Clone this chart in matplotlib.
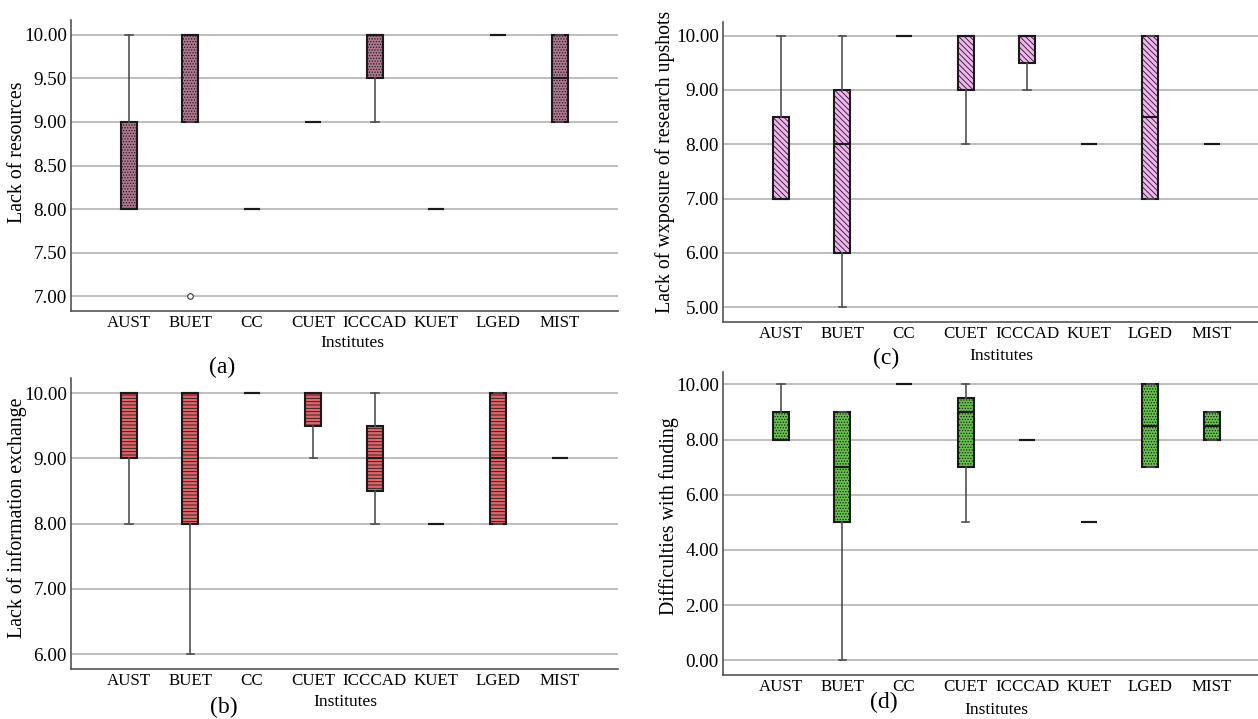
import matplotlib.pyplot as plt

plt.rcParams['font.family'] = 'Liberation Serif'
plt.rcParams['hatch.linewidth'] = 0.6

institutes = ["AUST", "BUET", "CC", "CUET", "ICCCAD", "KUET", "LGED", "MIST"]

# box stats per institute: whisker low, q1, median, q3, whisker high
res_lo = [8, 9, 8, 9, 9, 8, 10, 9]
res_q1 = [8, 9, 8, 9, 9.5, 8, 10, 9]
res_med = [8, 10, 8, 9, 10, 8, 10, 9.5]
res_q3 = [9, 10, 8, 9, 10, 8, 10, 10]
res_hi = [10, 10, 8, 9, 10, 8, 10, 10]
res_out = [[], [7], [], [], [], [], [], []]

info_lo = [8, 6, 10, 9, 8, 8, 8, 9]
info_q1 = [9, 8, 10, 9.5, 8.5, 8, 8, 9]
info_med = [10, 10, 10, 10, 9, 8, 9, 9]
info_q3 = [10, 10, 10, 10, 9.5, 8, 10, 9]
info_hi = [10, 10, 10, 10, 10, 8, 10, 9]

exp_lo = [7, 5, 10, 8, 9, 8, 7, 8]
exp_q1 = [7, 6, 10, 9, 9.5, 8, 7, 8]
exp_med = [7, 8, 10, 10, 10, 8, 8.5, 8]
exp_q3 = [8.5, 9, 10, 10, 10, 8, 10, 8]
exp_hi = [10, 10, 10, 10, 10, 8, 10, 8]

fund_lo = [8, 0, 10, 5, 8, 5, 7, 8]
fund_q1 = [8, 5, 10, 7, 8, 5, 7, 8]
fund_med = [8, 7, 10, 9, 8, 5, 8.5, 8.5]
fund_q3 = [9, 9, 10, 9.5, 8, 5, 10, 9]
fund_hi = [10, 9, 10, 10, 8, 5, 10, 9]

W, H = 1258, 719


def make_stats(lo, q1, med, q3, hi, out=None):
    stats = []
    for i in range(len(institutes)):
        stats.append({"whislo": lo[i], "q1": q1[i], "med": med[i], "q3": q3[i],
                      "whishi": hi[i], "fliers": out[i] if out else []})
    return stats


def draw_panel(ax, stats, color, hatch, ylabel, ylim, yticks, tag, tag_xy, xlab_xy, ylab_xy):
    ax.set_axisbelow(True)
    for y in yticks:
        ax.axhline(y, color="#b4b4b4", lw=1.2, zorder=0)
    ax.bxp(stats, positions=range(1, 9), widths=0.26, patch_artist=True,
           showfliers=True, capwidths=0.12,
           boxprops=dict(facecolor=color, edgecolor="#1a1a1a", lw=1.5, hatch=hatch),
           medianprops=dict(color="#1a1a1a", lw=1.5),
           whiskerprops=dict(color="#505050", lw=1.2),
           capprops=dict(color="#505050", lw=1.2),
           flierprops=dict(marker="o", markersize=4, markerfacecolor="white",
                           markeredgecolor="#333333", markeredgewidth=0.8))
    ax.set_ylim(*ylim)
    ax.set_yticks(yticks)
    ax.set_yticklabels(["%.2f" % y for y in yticks], fontsize=13.8)
    ax.set_xticks(range(1, 9))
    ax.set_xticklabels(institutes, fontsize=12.2)
    ax.tick_params(length=0, pad=3)
    ax.tick_params(axis="x", pad=3)
    ax.set_xlabel("Institutes", fontsize=12.5, va="center")
    ax.set_ylabel(ylabel, fontsize=14.3, va="center")
    ax.xaxis.set_label_coords(*xlab_xy)
    ax.yaxis.set_label_coords(*ylab_xy)
    for s in ["top", "right"]:
        ax.spines[s].set_visible(False)
    for s in ["left", "bottom"]:
        ax.spines[s].set_color("#555555")
        ax.spines[s].set_linewidth(1.2)
    ax.figure.text(tag_xy[0] / W, 1 - tag_xy[1] / H, tag, fontsize=17,
                   ha="center", va="center")


fig = plt.figure(figsize=(12.58, 7.19), dpi=100)
ax_a = fig.add_axes([71 / W, 1 - 311 / H, (618 - 71) / W, (311 - 20) / H])
ax_b = fig.add_axes([71 / W, 1 - 669 / H, (618 - 71) / W, (669 - 378) / H])
ax_c = fig.add_axes([723 / W, 1 - 322 / H, (1258 - 723) / W, (322 - 22) / H])
ax_d = fig.add_axes([723 / W, 1 - 675 / H, (1258 - 723) / W, (675 - 372) / H])

draw_panel(ax_a, make_stats(res_lo, res_q1, res_med, res_q3, res_hi, res_out),
           "#b07890", "......", "Lack of resources", (6.83, 10.17),
           [7.0, 7.5, 8.0, 8.5, 9.0, 9.5, 10.0], "(a)", (222, 367),
           (0.514, -0.11), (-0.097, 0.546))
draw_panel(ax_b, make_stats(info_lo, info_q1, info_med, info_q3, info_hi),
           "#e06468", "-----", "Lack of information exchange", (5.775, 10.23),
           [6.0, 7.0, 8.0, 9.0, 10.0], "(b)", (224, 707),
           (0.501, -0.113), (-0.099, 0.519))
draw_panel(ax_c, make_stats(exp_lo, exp_q1, exp_med, exp_q3, exp_hi),
           "#f2b4f0", "\\\\\\\\\\\\", "Lack of wxposure of research upshots", (4.73, 10.25),
           [5.0, 6.0, 7.0, 8.0, 9.0, 10.0], "(c)", (886, 358),
           (0.52, -0.113), (-0.108, 0.533))
draw_panel(ax_d, make_stats(fund_lo, fund_q1, fund_med, fund_q3, fund_hi),
           "#64c246", "......", "Difficulties with funding", (-0.53, 10.45),
           [0.0, 2.0, 4.0, 6.0, 8.0, 10.0], "(d)", (884, 702),
           (0.51, -0.115), (-0.101, 0.525))

for ax in (ax_a, ax_b):
    ax.set_xlim(0.06, 8.95)
for ax in (ax_c, ax_d):
    ax.set_xlim(0.06, 8.75)

fig.savefig("out.png", dpi=100)
